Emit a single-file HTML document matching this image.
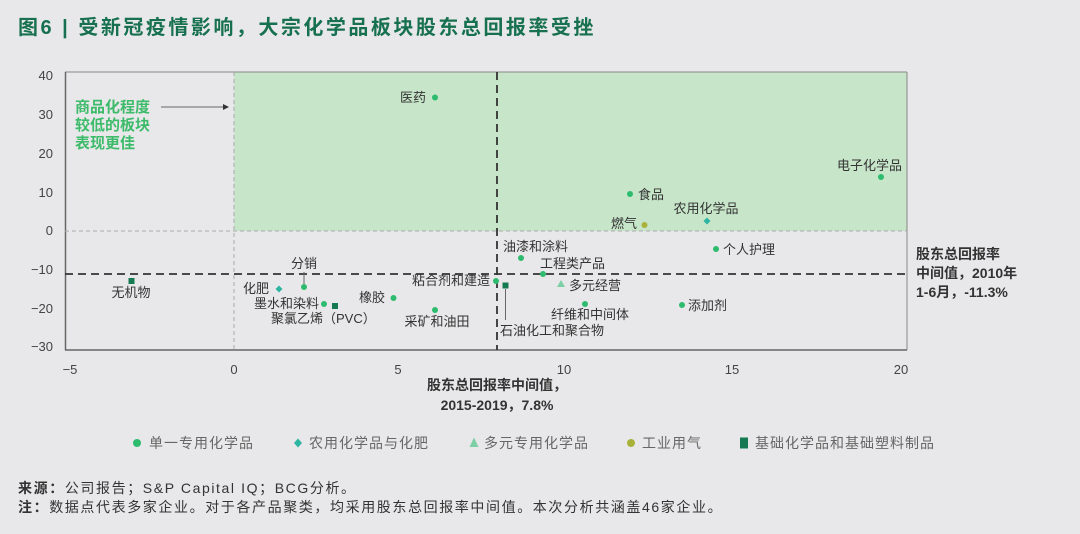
<!DOCTYPE html>
<html><head><meta charset="utf-8"><style>
html,body{margin:0;padding:0;background:#e8e8ea;}
svg{display:block;}
text{font-family:"Liberation Sans","Noto Sans CJK SC",sans-serif;}
</style></head><body>
<svg width="1080" height="534" viewBox="0 0 1080 534" xmlns="http://www.w3.org/2000/svg">
<rect width="1080" height="534" fill="#e8e8ea"/>
<text x="18" y="34" font-size="20" font-weight="bold" fill="#17704f" letter-spacing="2.5">图6 | 受新冠疫情影响，大宗化学品板块股东总回报率受挫</text>
<rect x="234" y="72" width="673" height="159" fill="#c7e5c9"/>
<line x1="65" y1="72" x2="907" y2="72" stroke="#888" stroke-width="1"/>
<line x1="907" y1="72" x2="907" y2="350" stroke="#888" stroke-width="1"/>
<line x1="65.5" y1="72" x2="65.5" y2="350" stroke="#666" stroke-width="1.5"/>
<line x1="65" y1="350" x2="907" y2="350" stroke="#666" stroke-width="1.5"/>
<line x1="65" y1="231" x2="907" y2="231" stroke="#aaa" stroke-width="1" stroke-dasharray="4,3"/>
<line x1="234" y1="72" x2="234" y2="350" stroke="#aaa" stroke-width="1" stroke-dasharray="4,3"/>
<line x1="497" y1="72" x2="497" y2="350" stroke="#333" stroke-width="1.8" stroke-dasharray="8,5"/>
<line x1="65" y1="274" x2="907" y2="274" stroke="#333" stroke-width="1.8" stroke-dasharray="8,5"/>
<g font-size="13" fill="#444" text-anchor="end">
<text x="53" y="80">40</text><text x="53" y="119">30</text><text x="53" y="158">20</text>
<text x="53" y="197">10</text><text x="53" y="235">0</text><text x="53" y="274">−10</text>
<text x="53" y="313">−20</text><text x="53" y="351">−30</text>
</g>
<g font-size="13" fill="#444" text-anchor="middle">
<text x="70" y="374">−5</text><text x="234" y="374">0</text><text x="398" y="374">5</text>
<text x="564" y="374">10</text><text x="732" y="374">15</text><text x="901" y="374">20</text>
</g>
<g font-size="14" font-weight="bold" fill="#333" text-anchor="middle">
<text x="497" y="390">股东总回报率中间值，</text>
<text x="497" y="410">2015-2019，7.8%</text>
</g>
<g font-size="14" font-weight="bold" fill="#333">
<text x="916" y="259">股东总回报率</text>
<text x="916" y="278">中间值，2010年</text>
<text x="916" y="297">1-6月，-11.3%</text>
</g>
<g font-size="15" font-weight="bold" fill="#3dbb6a">
<text x="75" y="112">商品化程度</text>
<text x="75" y="130">较低的板块</text>
<text x="75" y="148">表现更佳</text>
</g>
<line x1="161" y1="107" x2="224" y2="107" stroke="#666" stroke-width="1"/>
<polygon points="229,107 223,104 223,110" fill="#333"/>
<line x1="304" y1="272" x2="304" y2="284" stroke="#666" stroke-width="1"/>
<line x1="505.5" y1="289" x2="505.5" y2="320" stroke="#666" stroke-width="1"/>
<g fill="#2dbb6e">
<circle cx="435" cy="97.5" r="3"/><circle cx="304" cy="287" r="3"/><circle cx="324" cy="304" r="3"/>
<circle cx="393.5" cy="298" r="3"/><circle cx="435" cy="310" r="3"/><circle cx="496" cy="281" r="3"/>
<circle cx="881" cy="177" r="3"/><circle cx="630" cy="194" r="3"/><circle cx="521" cy="258" r="3"/>
<circle cx="716" cy="249" r="3"/><circle cx="543" cy="274" r="3"/><circle cx="585" cy="304" r="3"/>
<circle cx="682" cy="305" r="3"/>
</g>
<circle cx="644.5" cy="225" r="3" fill="#a8b23a"/>
<polygon points="279,285.5 282.5,289 279,292.5 275.5,289" fill="#2cb5a0"/>
<polygon points="707,217.5 710.5,221 707,224.5 703.5,221" fill="#2cb5a0"/>
<polygon points="561,280 565,287 557,287" fill="#7dcfa6"/>
<g fill="#157a52">
<rect x="128.5" y="278" width="6" height="6"/><rect x="332" y="303" width="6" height="6"/>
<rect x="502.5" y="282.5" width="6" height="6"/>
</g>
<g font-size="13" fill="#333">
<text x="426" y="102" text-anchor="end">医药</text>
<text x="131" y="297" text-anchor="middle">无机物</text>
<text x="269" y="293" text-anchor="end">化肥</text>
<text x="304" y="268" text-anchor="middle">分销</text>
<text x="319" y="308" text-anchor="end">墨水和染料</text>
<text x="271" y="323">聚氯乙烯（PVC）</text>
<text x="385" y="302" text-anchor="end">橡胶</text>
<text x="437" y="326" text-anchor="middle">采矿和油田</text>
<text x="490" y="285" text-anchor="end">粘合剂和建造</text>
<text x="500" y="335">石油化工和聚合物</text>
<text x="902" y="170" text-anchor="end">电子化学品</text>
<text x="638" y="199">食品</text>
<text x="706" y="213" text-anchor="middle">农用化学品</text>
<text x="637" y="228" text-anchor="end">燃气</text>
<text x="503" y="251">油漆和涂料</text>
<text x="723" y="254">个人护理</text>
<text x="540" y="268">工程类产品</text>
<text x="569" y="290">多元经营</text>
<text x="590" y="319" text-anchor="middle">纤维和中间体</text>
<text x="688" y="310">添加剂</text>
</g>
<g font-size="14" fill="#666" letter-spacing="1">
<circle cx="137" cy="443" r="4" fill="#2dbb6e"/><text x="149" y="448">单一专用化学品</text>
<polygon points="298,438.5 302,443 298,447.5 294,443" fill="#2cb5a0"/><text x="309" y="448">农用化学品与化肥</text>
<polygon points="474,437.5 478.5,447 469.5,447" fill="#7dcfa6"/><text x="484" y="448">多元专用化学品</text>
<circle cx="631" cy="443" r="4" fill="#a8b23a"/><text x="642" y="448">工业用气</text>
<rect x="740" y="437.5" width="8" height="11" fill="#157a52"/><text x="755" y="448">基础化学品和基础塑料制品</text>
</g>
<g font-size="14" fill="#333" letter-spacing="1.6">
<text x="18" y="493"><tspan font-weight="bold">来源：</tspan>公司报告；S&amp;P Capital IQ；BCG分析。</text>
<text x="18" y="512"><tspan font-weight="bold">注：</tspan>数据点代表多家企业。对于各产品聚类，均采用股东总回报率中间值。本次分析共涵盖46家企业。</text>
</g>
</svg>
</body></html>
